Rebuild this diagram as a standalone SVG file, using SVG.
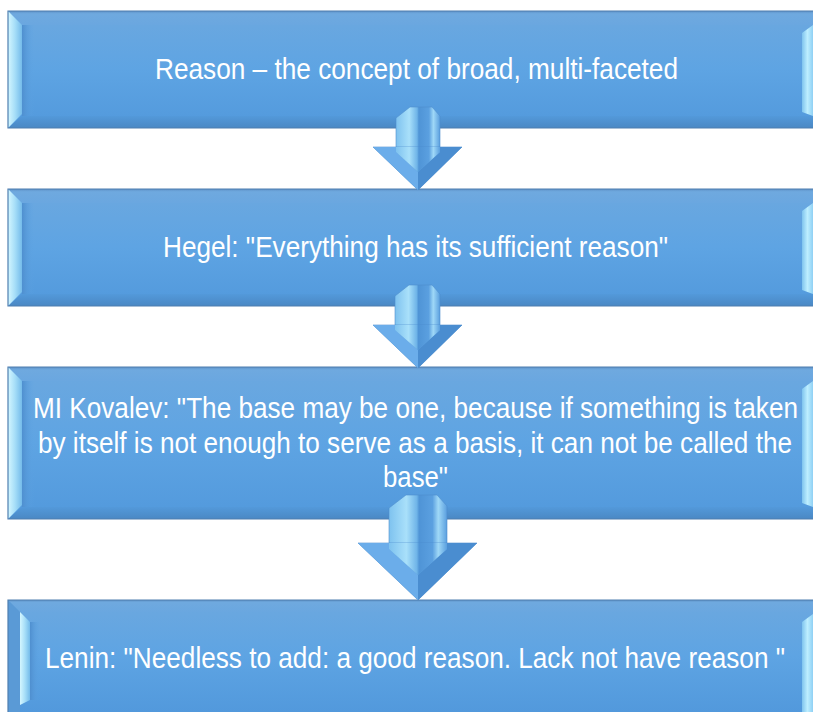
<svg xmlns="http://www.w3.org/2000/svg" width="813" height="712" viewBox="0 0 813 712">
<defs>
<linearGradient id="gFill" x1="0" y1="0" x2="0" y2="1">
<stop offset="0" stop-color="#6ca8df"/>
<stop offset="0.5" stop-color="#5ea4e3"/>
<stop offset="1" stop-color="#5299dc"/>
</linearGradient>
<linearGradient id="gTop" x1="0" y1="0" x2="0" y2="1">
<stop offset="0" stop-color="#5f93c8"/>
<stop offset="0.2" stop-color="#6fa9df"/>
<stop offset="1" stop-color="#6aa7e0"/>
</linearGradient>
<linearGradient id="gBot" x1="0" y1="0" x2="0" y2="1">
<stop offset="0" stop-color="#5399da"/>
<stop offset="1" stop-color="#4a88c4"/>
</linearGradient>
<linearGradient id="gBevL" x1="0" y1="0" x2="1" y2="0">
<stop offset="0" stop-color="#d4f6ff"/>
<stop offset="0.5" stop-color="#a6def8"/>
<stop offset="1" stop-color="#74bbea"/>
</linearGradient>
<linearGradient id="gShadL" x1="0" y1="0" x2="1" y2="0">
<stop offset="0" stop-color="#4f8fcf"/>
<stop offset="1" stop-color="#5ea4e3" stop-opacity="0"/>
</linearGradient>
<linearGradient id="gBevR" x1="0" y1="0" x2="1" y2="0">
<stop offset="0" stop-color="#7fc4ee"/>
<stop offset="0.5" stop-color="#bdeeff"/>
<stop offset="1" stop-color="#8fd0f4"/>
</linearGradient>
<linearGradient id="gShaft" x1="0" y1="0" x2="1" y2="0">
<stop offset="0" stop-color="#7ec2ef"/>
<stop offset="0.3" stop-color="#a9e0fa"/>
<stop offset="0.48" stop-color="#6fb4e8"/>
<stop offset="0.52" stop-color="#4f94d6"/>
<stop offset="0.75" stop-color="#5ba0e0"/>
<stop offset="0.85" stop-color="#9fd8f7"/>
<stop offset="1" stop-color="#5a9fdf"/>
</linearGradient>
<linearGradient id="gHead" x1="0" y1="0" x2="0" y2="1">
<stop offset="0" stop-color="#66a9e6"/>
<stop offset="1" stop-color="#4f93d4"/>
</linearGradient>
</defs>
<style>
.txt{font-family:"Liberation Sans Narrow","Liberation Sans",Arial,sans-serif;font-size:30px;fill:#ffffff;text-anchor:middle}
.edge{fill:none;stroke:#4f7fb0;stroke-width:1.2}
.bevL{fill:url(#gBevL)}
.shadL{fill:url(#gShadL)}
.bevR{fill:url(#gBevR)}
.shaft{fill:url(#gShaft);stroke:#4f8fcf;stroke-width:0.6}
.head{fill:url(#gHead);stroke:#4a8ccc;stroke-width:0.6}
.facetL{fill:#6badea}
.facetR{fill:#4a8dd0}
</style>

<g id="node1">
<rect x="8" y="11" width="805" height="117" fill="url(#gFill)"/>
<polygon points="8,11 813,11 813,25 22,25" fill="url(#gTop)"/>
<polygon points="8,128 813,128 813,116 22,116" fill="url(#gBot)"/>
<polygon points="22,25 34,25 34,116 22,116" class="shadL"/>
<polygon points="8,11 22,25 22,114 8,128" class="bevL"/>
<polygon points="802,33 813,25 813,116 802,112" class="bevR"/>
<path d="M813,11 H8 V128 H813" class="edge"/>
<text class="txt" x="416.5" y="79" textLength="523" lengthAdjust="spacingAndGlyphs">Reason – the concept of broad, multi-faceted</text>
</g>

<g id="node2">
<rect x="8" y="189" width="805" height="117" fill="url(#gFill)"/>
<polygon points="8,189 813,189 813,203 22,203" fill="url(#gTop)"/>
<polygon points="8,306 813,306 813,294 22,294" fill="url(#gBot)"/>
<polygon points="22,203 34,203 34,294 22,294" class="shadL"/>
<polygon points="8,189 22,203 22,292 8,306" class="bevL"/>
<polygon points="802,211 813,203 813,294 802,290" class="bevR"/>
<path d="M813,189 H8 V306 H813" class="edge"/>
<text class="txt" x="415.5" y="257" textLength="505" lengthAdjust="spacingAndGlyphs">Hegel: "Everything has its sufficient reason"</text>
</g>

<g id="node3">
<rect x="8" y="367" width="805" height="152" fill="url(#gFill)"/>
<polygon points="8,367 813,367 813,381 22,381" fill="url(#gTop)"/>
<polygon points="8,519 813,519 813,507 22,507" fill="url(#gBot)"/>
<polygon points="22,381 34,381 34,507 22,507" class="shadL"/>
<polygon points="8,367 22,381 22,505 8,519" class="bevL"/>
<polygon points="802,389 813,381 813,507 802,503" class="bevR"/>
<path d="M813,367 H8 V519 H813" class="edge"/>
<text class="txt" x="415.5" y="418" textLength="765" lengthAdjust="spacingAndGlyphs">MI Kovalev: "The base may be one, because if something is taken</text>
<text class="txt" x="415" y="453" textLength="754" lengthAdjust="spacingAndGlyphs">by itself is not enough to serve as a basis, it can not be called the</text>
<text class="txt" x="415.5" y="487" textLength="65" lengthAdjust="spacingAndGlyphs">base"</text>
</g>

<g id="node4">
<rect x="8" y="600" width="805" height="112" fill="url(#gFill)"/>
<polygon points="8,600 813,600 813,612 22,612" fill="url(#gTop)"/>
<polygon points="8,600 20,612 20,712 8,712" fill="#5a9ad6"/>
<polygon points="20,612 30,622 30,700 20,705" class="bevL"/>
<polygon points="30,622 40,622 40,700 30,700" class="shadL"/>
<polygon points="802,622 813,614 813,712 802,712" class="bevR"/>
<path d="M813,600 H8 V712" class="edge"/>
<text class="txt" x="415" y="668" textLength="740" lengthAdjust="spacingAndGlyphs">Lenin: "Needless to add: a good reason. Lack not have reason "</text>
</g>

<g id="connectors">
<g id="arrow1">
<polygon class="shaft" points="396,118 410,107 432,107 440,116 440,150 396,150"/>
<polygon class="head" points="373,147 462,147 418,190"/>
<polygon class="facetL" points="373,147 396,147 396,152 418,172 418,190"/>
<polygon class="facetR" points="440,147 462,147 418,190 418,172 440,152"/>
<polygon points="396,147 440,147 440,152 418,172 396,152" fill="url(#gShaft)"/>
</g>
<g id="arrow2">
<polygon class="shaft" points="395,296 409,285 432,285 440,294 440,328 395,328"/>
<polygon class="head" points="373,325 462,325 418,368"/>
<polygon class="facetL" points="373,325 395,325 395,330 418,350 418,368"/>
<polygon class="facetR" points="440,325 462,325 418,368 418,350 440,330"/>
<polygon points="395,325 440,325 440,330 418,350 395,330" fill="url(#gShaft)"/>
</g>
<g id="arrow3">
<polygon class="shaft" points="389,508 406,495 437,495 447,506 447,546 389,546"/>
<polygon class="head" points="358,543 477,543 418,600"/>
<polygon class="facetL" points="358,543 389,543 389,549 418,575 418,600"/>
<polygon class="facetR" points="447,543 477,543 418,600 418,575 447,549"/>
<polygon points="389,543 447,543 447,549 418,575 389,549" fill="url(#gShaft)"/>
</g>
</g>
</svg>
